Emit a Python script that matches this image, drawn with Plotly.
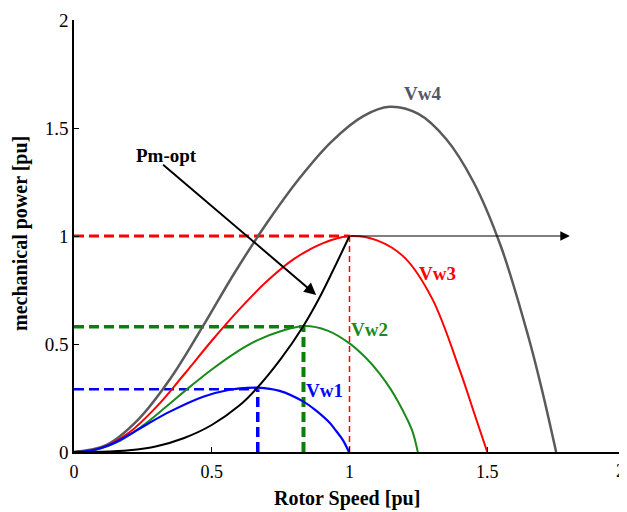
import plotly.graph_objects as go

# Vw4 (gray)
vw4_x = [0, 0.117, 0.233, 0.35, 0.467, 0.583, 0.7, 0.817, 0.933, 1.05, 1.145, 1.25, 1.35, 1.45, 1.55, 1.65, 1.70, 1.75]
vw4_y = [0, 0.032, 0.15, 0.34, 0.58, 0.83, 1.06, 1.265, 1.435, 1.555, 1.598, 1.565, 1.45, 1.25, 0.95, 0.53, 0.28, 0]
# Vw3 (red)
vw3_x = [0, 0.1, 0.2, 0.3, 0.4, 0.5, 0.6, 0.7, 0.8, 0.9, 1.0, 1.1, 1.2, 1.3, 1.4, 1.45, 1.5]
vw3_y = [0, 0.02, 0.09, 0.21, 0.36, 0.515, 0.66, 0.79, 0.895, 0.965, 1.0, 0.98, 0.90, 0.71, 0.38, 0.19, 0]
# Vw2 (green)
vw2_x = [0, 0.083, 0.167, 0.25, 0.333, 0.417, 0.5, 0.583, 0.667, 0.75, 0.837, 0.92, 1.0, 1.06, 1.11, 1.15, 1.18, 1.21, 1.23, 1.248]
vw2_y = [0, 0.012, 0.052, 0.122, 0.208, 0.298, 0.382, 0.457, 0.518, 0.559, 0.583, 0.562, 0.503, 0.435, 0.362, 0.29, 0.225, 0.15, 0.09, 0]
# Vw1 (blue)
vw1_x = [0, 0.067, 0.133, 0.2, 0.267, 0.348, 0.469, 0.565, 0.62, 0.667, 0.746, 0.833, 0.88, 0.928, 0.95, 0.976, 0.998]
vw1_y = [0, 0.008, 0.035, 0.08, 0.13, 0.187, 0.256, 0.288, 0.296, 0.298, 0.283, 0.233, 0.19, 0.135, 0.10, 0.055, 0]
# Pm-opt (black)
pmopt_x = [0, 0.1, 0.2, 0.3, 0.4, 0.5, 0.6, 0.66, 0.75, 0.831, 0.885, 0.94, 1.0]
pmopt_y = [0, 0.001, 0.008, 0.027, 0.065, 0.125, 0.215, 0.29, 0.43, 0.58, 0.70, 0.84, 1.0]

# optimum operating points (speed, power)
opt_speed = [0.667, 0.833, 1.0]
opt_power = [0.29, 0.58, 1.0]

x_ticks = [0, 0.5, 1, 1.5, 2]
y_ticks = [0, 0.5, 1, 1.5, 2]

SERIF = "Liberation Serif, Times New Roman, serif"

fig = go.Figure()

def dashed(x, y, color, width, dash):
    fig.add_trace(go.Scatter(x=x, y=y, mode="lines", showlegend=False, hoverinfo="skip",
                             line=dict(color=color, width=width, dash=dash)))

# dashed guides
dashed([0, opt_speed[0]], [opt_power[0]] * 2, "#0000ff", 2.5, "10px,5px")
dashed([opt_speed[0]] * 2, [0, opt_power[0]], "#0000ff", 3.5, "10px,5px")
dashed([0, opt_speed[1]], [opt_power[1]] * 2, "#0a800a", 3.5, "10px,5px")
dashed([opt_speed[1]] * 2, [0, opt_power[1]], "#0a800a", 4, "10px,5px")
dashed([0, opt_speed[2]], [opt_power[2]] * 2, "#ff0000", 3, "10px,5px")
dashed([opt_speed[2]] * 2, [0, opt_power[2]], "#ff0000", 1.5, "6px,4px")

def curve(x, y, color, width):
    fig.add_trace(go.Scatter(x=x, y=y, mode="lines", showlegend=False, hoverinfo="skip",
                             line=dict(color=color, width=width, shape="spline", smoothing=1.0)))

curve(vw4_x, vw4_y, "#5a5a5a", 2.5)
curve(vw3_x, vw3_y, "#ff0000", 2)
curve(vw2_x, vw2_y, "#1a8a1a", 2)
curve(vw1_x, vw1_y, "#0000ff", 2.2)
curve(pmopt_x, pmopt_y, "#000000", 2)

# horizontal arrow at rated power
fig.add_annotation(x=1.8, y=1.0, ax=1.0, ay=1.0, xref="x", yref="y", axref="x", ayref="y",
                   showarrow=True, arrowhead=2, arrowsize=1.6, arrowwidth=1.2, arrowcolor="#000000", text="")
# Pm-opt arrow
fig.add_annotation(x=0.879, y=0.727, ax=0.318, ay=1.336, xref="x", yref="y", axref="x", ayref="y",
                   showarrow=True, arrowhead=2, arrowsize=1.2, arrowwidth=2, arrowcolor="#000000", text="")

labels = [("Pm-opt", 0.336, 1.375, "#000000"),
          ("Vw4", 1.266, 1.66, "#555566"),
          ("Vw3", 1.32, 0.827, "#ff0000"),
          ("Vw2", 1.072, 0.565, "#1a8a1a"),
          ("Vw1", 0.909, 0.287, "#0000ff")]
for t, lx, ly, c in labels:
    fig.add_annotation(x=lx, y=ly, xref="x", yref="y", text=f"<b>{t}</b>", showarrow=False,
                       font=dict(family=SERIF, size=19, color=c))

# last x tick label, kept inside the page at the right edge
fig.add_annotation(x=x_ticks[-1], y=0, xref="x", yref="paper", text=f"{x_ticks[-1]:g}",
                   xanchor="right", yanchor="middle", xshift=2, yshift=-19,
                   showarrow=False, font=dict(family=SERIF, size=18, color="#000000"))

# axis titles
fig.add_annotation(x=0.4955, y=-0.1065, xref="paper", yref="paper", text="<b>Rotor Speed [pu]</b>",
                   xanchor="center", yanchor="middle",
                   showarrow=False, font=dict(family=SERIF, size=20, color="#000000"))
fig.add_annotation(x=-0.096, y=0.505, xref="paper", yref="paper", text="<b>mechanical power [pu]</b>",
                   xanchor="center", yanchor="middle",
                   textangle=-90, showarrow=False, font=dict(family=SERIF, size=20, color="#000000"))

fig.update_layout(
    width=627, height=512,
    margin=dict(l=66, r=10, t=12, b=68),
    paper_bgcolor="white", plot_bgcolor="white",
    font=dict(family=SERIF, color="#000000"),
)
fig.update_xaxes(range=[0, 2], tickvals=x_ticks,
                 ticktext=[f"{v:g}" for v in x_ticks[:-1]] + [""], automargin=False,
                 ticklabelstandoff=3,
                 showgrid=False, zeroline=False, showline=True, linecolor="#000000", linewidth=1.5,
                 ticks="inside", ticklen=5, tickcolor="#000000", tickfont=dict(size=18, family=SERIF))
fig.update_yaxes(range=[0, 2], tickvals=y_ticks, ticktext=[f"{v:g}" for v in y_ticks], automargin=False,
                 showgrid=False, zeroline=False, showline=True, linecolor="#000000", linewidth=1.5,
                 ticks="inside", ticklen=5, tickcolor="#000000", tickfont=dict(size=19, family=SERIF))

fig.write_html("out.html")
